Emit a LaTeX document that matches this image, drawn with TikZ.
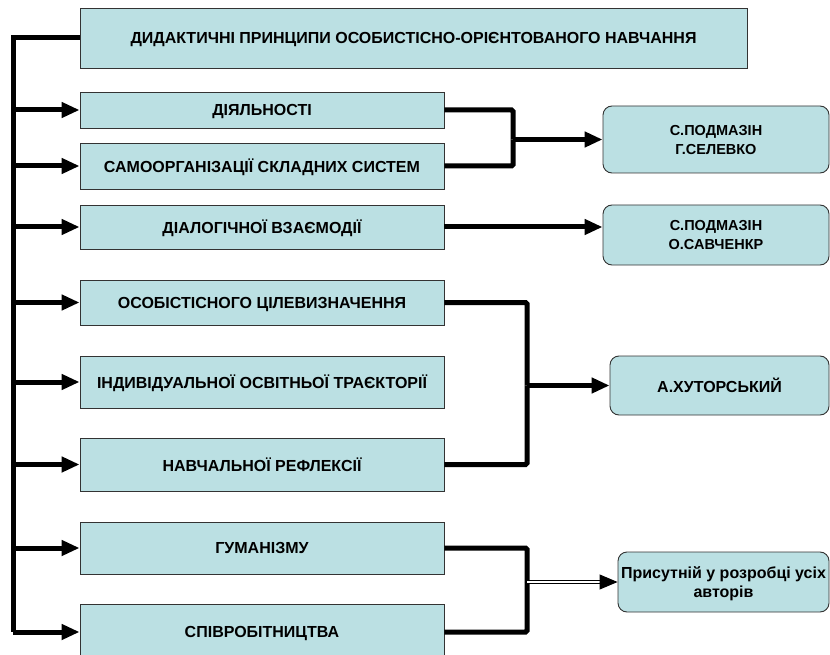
\documentclass[tikz,border=0pt]{standalone}
\usepackage{fontspec}
\setmainfont{Liberation Sans}
\usetikzlibrary{arrows.meta}
\definecolor{boxblue}{RGB}{187,224,227}

\begin{document}
\begin{tikzpicture}[x=1pt,y=-1pt,
    box/.style={draw=black!80, line width=0.9pt, fill=boxblue, inner sep=0pt,
      minimum width=364pt, text depth=0pt, font=\fontsize{16}{19}\selectfont\bfseries},
    authbox/.style={box, rounded corners=9pt, align=center},
    conn/.style={line width=5pt, rounded corners=1.5pt},
    arr/.style={conn, -{Triangle[length=18pt,width=15pt]}}]
			\useasboundingbox (0,0) rectangle (830,655);
			% boxes on the left
			\node[box, minimum width=667pt, minimum height=60pt] (title) at (413.5,38) {ДИДАКТИЧНІ ПРИНЦИПИ ОСОБИСТІСНО-ОРІЄНТОВАНОГО НАВЧАННЯ};
			\node[box, minimum height=36pt] (dijal) at (262,110) {ДІЯЛЬНОСТІ};
			\node[box, minimum height=46pt] (samoorg) at (262,166) {САМООРГАНІЗАЦІЇ СКЛАДНИХ СИСТЕМ};
			\node[box, minimum height=44pt] (dialog) at (262,227) {ДІАЛОГІЧНОЇ ВЗАЄМОДІЇ};
			\node[box, minimum height=45pt] (cil) at (262,302.5) {ОСОБІСТІСНОГО ЦІЛЕВИЗНАЧЕННЯ};
			\node[box, minimum height=52pt] (traekt) at (262,382) {ІНДИВІДУАЛЬНОЇ ОСВІТНЬОЇ ТРАЄКТОРІЇ};
			\node[box, minimum height=53pt] (refl) at (262,464.5) {НАВЧАЛЬНОЇ РЕФЛЕКСІЇ};
			\node[box, minimum height=52pt] (guman) at (262,548) {ГУМАНІЗМУ};
			\node[box, minimum height=56pt] (spivrob) at (262,632) {СПІВРОБІТНИЦТВА};
			% authors
			\node[authbox, minimum width=226pt, minimum height=67pt, font=\fontsize{14.5}{19}\selectfont\bfseries] (podsel) at (716,139.5) {С.ПОДМАЗІН\\Г.СЕЛЕВКО};
			\node[authbox, minimum width=226pt, minimum height=60pt, font=\fontsize{14.5}{19}\selectfont\bfseries] (podsav) at (716,235) {С.ПОДМАЗІН\\О.САВЧЕНКР};
			\node[authbox, minimum width=219pt, minimum height=59pt] (khut) at (719.5,385.5) {А.ХУТОРСЬКИЙ};
			\node[authbox, minimum width=211pt, minimum height=60pt] (usi) at (723.5,582) {Присутній у розробці усіх\\авторів};
			% left spine
			\coordinate (spine) at (13,38);
			\draw[conn, rounded corners=0pt] (title.west) -- (spine) -- (spine |- spivrob.west);
			\draw[arr] (spine |- dijal.west) -- (dijal.west);
			\draw[arr] (spine |- samoorg.west) -- (samoorg.west);
			\draw[arr] (spine |- dialog.west) -- (dialog.west);
			\draw[arr] (spine |- cil.west) -- (cil.west);
			\draw[arr] (spine |- traekt.west) -- (traekt.west);
			\draw[arr] (spine |- refl.west) -- (refl.west);
			\draw[arr] (spine |- guman.west) -- (guman.west);
			\draw[arr] (spine |- spivrob.west) -- (spivrob.west);
			% right side
			\coordinate (m1) at (513,139.5);
			\draw[conn] (dijal.east) -| (m1);
			\draw[conn] (samoorg.east) -| (m1);
			\draw[arr] (m1) -- (podsel.west);
			\draw[arr] (dialog.east) -- (dialog.east -| podsav.west);
			\coordinate (m2) at (527,385.5);
			\draw[conn] (cil.east) -| (m2);
			\draw[conn] (refl.east) -| (m2);
			\draw[arr] (m2) -- (khut.west);
			\coordinate (m3) at (527,582);
			\draw[conn] (guman.east) -| (m3);
			\draw[conn] (spivrob.east) -| (m3);
			\draw[double, line width=1pt, double distance=2pt] (m3) -- ([xshift=-16pt]usi.west);
			\draw[line width=1pt, -{Triangle[length=18pt,width=15pt]}] ([xshift=-18pt]usi.west) -- (usi.west);
		\end{tikzpicture}
\end{document}
